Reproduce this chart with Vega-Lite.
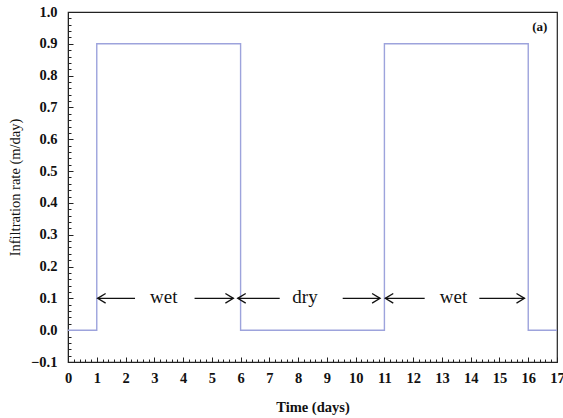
{
  "$schema": "https://vega.github.io/schema/vega-lite/v6.json",
  "width": 489,
  "height": 350,
  "autosize": {"type": "none"},
  "padding": {"left": 68, "top": 12, "right": 6, "bottom": 56},
  "background": "white",
  "config": {
    "view": {"stroke": "#222", "strokeWidth": 1.2},
    "font": "Liberation Serif"
  },
  "datasets": {
    "series": [
      {"time": 0, "rate": 0},
      {"time": 1, "rate": 0.9},
      {"time": 6, "rate": 0},
      {"time": 11, "rate": 0.9},
      {"time": 16, "rate": 0},
      {"time": 17, "rate": 0}
    ],
    "arrows": [
      {"tail": 2.33, "tip": 1.03, "dir": "left", "y": 0.1},
      {"tail": 4.4, "tip": 5.75, "dir": "right", "y": 0.1},
      {"tail": 7.36, "tip": 5.9, "dir": "left", "y": 0.1},
      {"tail": 9.55, "tip": 10.85, "dir": "right", "y": 0.1},
      {"tail": 12.4, "tip": 11.03, "dir": "left", "y": 0.1},
      {"tail": 14.3, "tip": 15.87, "dir": "right", "y": 0.1}
    ],
    "labels": [
      {"x": 3.33, "y": 0.1, "text": "wet"},
      {"x": 8.24, "y": 0.1, "text": "dry"},
      {"x": 13.4, "y": 0.1, "text": "wet"}
    ],
    "panel": [{"x": 16.4, "y": 0.952, "text": "(a)"}]
  },
  "layer": [
    {
      "data": {"name": "series"},
      "mark": {"type": "line", "interpolate": "step-after", "color": "#9da3dc", "strokeWidth": 1.4},
      "encoding": {
        "x": {
          "field": "time", "type": "quantitative",
          "scale": {"domain": [0, 17], "nice": false, "zero": false},
          "axis": {
            "title": "Time (days)",
            "titleFont": "Liberation Serif", "titleFontSize": 14.5, "titleFontWeight": "bold", "titleColor": "#111",
            "titlePadding": 14,
            "tickCount": 500,
            "values": [0,0.2,0.4,0.6,0.8,1,1.2,1.4,1.6,1.8,2,2.2,2.4,2.6,2.8,3,3.2,3.4,3.6,3.8,4,4.2,4.4,4.6,4.8,5,5.2,5.4,5.6,5.8,6,6.2,6.4,6.6,6.8,7,7.2,7.4,7.6,7.8,8,8.2,8.4,8.6,8.8,9,9.2,9.4,9.6,9.8,10,10.2,10.4,10.6,10.8,11,11.2,11.4,11.6,11.8,12,12.2,12.4,12.6,12.8,13,13.2,13.4,13.6,13.8,14,14.2,14.4,14.6,14.8,15,15.2,15.4,15.6,15.8,16,16.2,16.4,16.6,16.8,17],
            "labelExpr": "abs(datum.value - round(datum.value)) < 1e-6 ? format(datum.value, 'd') : ''",
            "labelOverlap": false,
            "labelFlush": false,
            "labelFont": "Liberation Serif", "labelFontSize": 14.5, "labelFontWeight": "bold", "labelColor": "#111",
            "labelPadding": 14,
            "tickSize": {"condition": {"test": "abs(datum.value - round(datum.value)) < 1e-6", "value": -5}, "value": -3},
            "tickColor": "#222",
            "domainColor": "#222",
            "grid": false
          }
        },
        "y": {
          "field": "rate", "type": "quantitative",
          "scale": {"domain": [-0.1, 1.0], "nice": false, "zero": false},
          "axis": {
            "title": "Infiltration rate (m/day)",
            "titleFont": "Liberation Serif", "titleFontSize": 14.5, "titleFontWeight": "normal", "titleColor": "#111",
            "titlePadding": 8,
            "tickCount": 500,
            "values": [-0.1,-0.08,-0.06,-0.04,-0.02,0,0.02,0.04,0.06,0.08,0.1,0.12,0.14,0.16,0.18,0.2,0.22,0.24,0.26,0.28,0.3,0.32,0.34,0.36,0.38,0.4,0.42,0.44,0.46,0.48,0.5,0.52,0.54,0.56,0.58,0.6,0.62,0.64,0.66,0.68,0.7,0.72,0.74,0.76,0.78,0.8,0.82,0.84,0.86,0.88,0.9,0.92,0.94,0.96,0.98,1.0],
            "labelExpr": "abs(datum.value*10 - round(datum.value*10)) < 1e-6 ? format(datum.value, '.1f') : ''",
            "labelOverlap": false,
            "labelFlush": false,
            "labelFont": "Liberation Serif", "labelFontSize": 14.5, "labelFontWeight": "bold", "labelColor": "#111",
            "labelPadding": 16,
            "tickSize": {"condition": {"test": "abs(datum.value*10 - round(datum.value*10)) < 1e-6", "value": -5}, "value": -3},
            "tickColor": "#222",
            "domainColor": "#222",
            "grid": false
          }
        }
      }
    },
    {
      "data": {"name": "arrows"},
      "mark": {"type": "rule", "color": "#111", "strokeWidth": 1.3},
      "encoding": {
        "x": {"field": "tail", "type": "quantitative"},
        "x2": {"field": "tip"},
        "y": {"field": "y", "type": "quantitative"}
      }
    },
    {
      "data": {"name": "arrows"},
      "mark": {"type": "point", "filled": false, "color": "#111", "strokeWidth": 1.3, "size": 64, "opacity": 1},
      "encoding": {
        "x": {"field": "tip", "type": "quantitative"},
        "y": {"field": "y", "type": "quantitative"},
        "shape": {
          "field": "dir", "type": "nominal",
          "scale": {"domain": ["left", "right"], "range": ["M2,-1.2L0,0L2,1.2", "M-2,-1.2L0,0L-2,1.2"]},
          "legend": null
        }
      }
    },
    {
      "data": {"name": "labels"},
      "mark": {"type": "text", "font": "Liberation Serif", "fontSize": 19, "color": "#111", "baseline": "middle", "align": "center", "dy": -1},
      "encoding": {
        "x": {"field": "x", "type": "quantitative"},
        "y": {"field": "y", "type": "quantitative"},
        "text": {"field": "text"}
      }
    },
    {
      "data": {"name": "panel"},
      "mark": {"type": "text", "font": "Liberation Serif", "fontSize": 13, "fontWeight": "bold", "color": "#111", "baseline": "middle", "align": "center"},
      "encoding": {
        "x": {"field": "x", "type": "quantitative"},
        "y": {"field": "y", "type": "quantitative"},
        "text": {"field": "text"}
      }
    }
  ]
}
